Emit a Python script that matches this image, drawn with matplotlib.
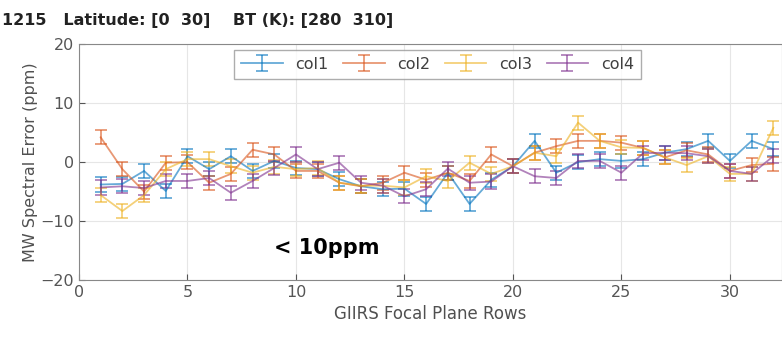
import numpy as np
import matplotlib
matplotlib.use('Agg')
import matplotlib.pyplot as plt

# строки фокальной плоскости
rows = list(range(1, 33))

# ошибки по колонкам (ppm)
col1 = [-3.8, -3.7, -1.5, -4.9, 1.0, -1.2, 1.0, -1.5, 0.2, -1.0,
        -1.2, -2.9, -4.1, -4.6, -4.5, -7.1, -1.8, -7.1, -3.0, -0.7,
        3.6, -1.8, 0.0, 0.5, 0.2, 0.5, 1.6, 2.2, 3.6, 0.2, 3.6, 2.2]
col2 = [4.2, -1.2, -5.0, -0.1, 0.0, -3.5, -2.0, 2.1, 1.3, -1.5,
        -1.5, -3.5, -4.1, -3.5, -1.8, -3.0, -1.8, -3.2, 1.3, -0.7,
        1.6, 2.7, 3.6, 3.6, 3.3, 2.4, 0.8, 2.0, 1.3, -1.5, -0.5, -0.3]
col3 = [-5.6, -8.3, -5.6, -1.2, 0.5, 0.5, -0.7, -1.8, -0.8, -1.2,
        -1.0, -3.5, -4.0, -4.0, -4.3, -2.4, -3.2, -0.1, -2.0, -0.7,
        1.6, 1.0, 6.7, 3.6, 2.5, 2.4, 0.8, -0.5, 1.0, -2.0, -2.0, 5.8]
col4 = [-4.3, -4.1, -4.4, -3.2, -3.2, -2.7, -5.2, -3.2, -1.0, 1.3,
        -1.2, -0.1, -3.5, -4.0, -5.8, -4.6, -1.1, -3.5, -3.3, -0.7,
        -2.4, -2.7, 0.2, 0.2, -1.8, 1.5, 1.6, 1.5, 1.0, -1.5, -2.0, 1.0]
err = [1.2] * 32

series = [(col1, 'col1', '#0072BD'), (col2, 'col2', '#D95319'),
          (col3, 'col3', '#EDB120'), (col4, 'col4', '#7E2F8E')]

fig = plt.figure(figsize=(7.82, 3.37), dpi=100)
axis = fig.add_axes([0.101, 0.169, 0.899, 0.700])

for data, name, color in series:
    axis.errorbar(rows, data, yerr=err, color=color, alpha=0.6, lw=1.3,
                  elinewidth=1.3, capsize=4, capthick=1.3, label=name)

axis.set_xlim(0, 32.4)
axis.set_ylim(-20, 20)
axis.set_xticks([0, 5, 10, 15, 20, 25, 30])
axis.set_yticks([-20, -10, 0, 10, 20])
axis.grid(True, color='#e6e6e6', lw=0.8)
axis.set_axisbelow(True)
axis.tick_params(direction='in', labelsize=11.5, colors='#555555', length=4)
for sp in axis.spines.values():
    sp.set_color('#888888')

axis.set_xlabel('GIIRS Focal Plane Rows', fontsize=12, color='#505050')
axis.set_ylabel('MW Spectral Error (ppm)', fontsize=11.5, color='#505050',
                labelpad=2)

leg = axis.legend(loc='center', bbox_to_anchor=(0.51, 0.915), ncol=4,
                  fontsize=11.5, fancybox=False, edgecolor='#999999',
                  handlelength=2.6, columnspacing=0.9, borderpad=0.45)
for t in leg.get_texts():
    t.set_color('#404040')

axis.text(9.0, -14.6, '< 10ppm', fontsize=15, fontweight='bold', va='center')

fig.text(0.002, 0.94, '1215   Latitude: [0  30]    BT (K): [280  310]',
         fontsize=11.5, fontweight='bold', color='#222222', va='center')

fig.savefig('out.png', dpi=100)
